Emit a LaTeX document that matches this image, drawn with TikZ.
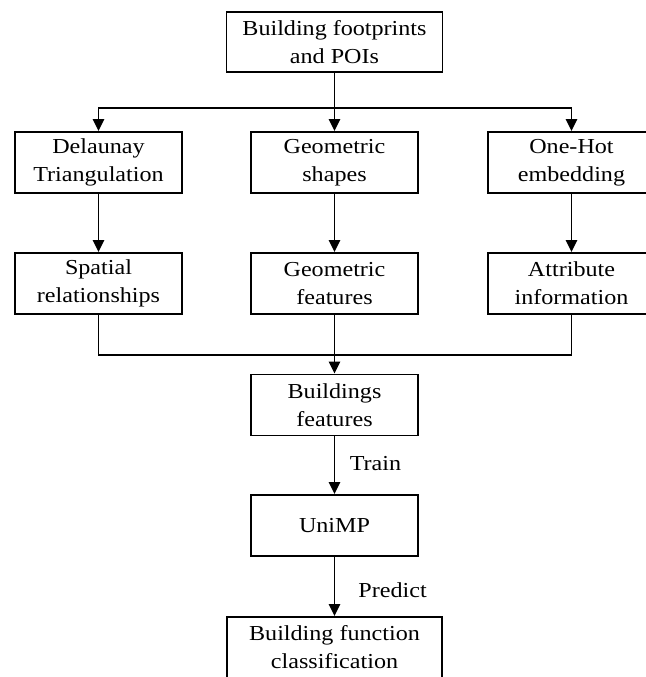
\documentclass[tikz,border=0pt]{standalone}
\usepackage{fontspec}
\setmainfont{Liberation Serif}[FakeStretch=1.13]
\usetikzlibrary{arrows.meta}

\tikzset{
  flowbox/.style={draw, line width=1.4pt, minimum width=125.25pt, minimum height=45.75pt,
    align=center, inner sep=0pt, font=\fontsize{16}{21}\selectfont},
  flowline/.style={line width=1.4pt},
  flowarrow/.style={line width=1.4pt, -{Triangle[length=9pt,width=8.5pt]}},
  flowlabel/.style={font=\fontsize{16}{21}\selectfont, inner sep=0.75pt}
}

\begin{document}
\begin{tikzpicture}[x=0.75pt,y=0.75pt,yscale=-1,xscale=1]
			\useasboundingbox (0,0) rectangle (645,677);
			
			%Shape: Rectangle [id:top]
			\node [flowbox, minimum width=162pt, minimum height=45pt] (input) at (334.5,42) {Building footprints\\and POIs};
			%Shape: Rectangle [id:row1]
			\node [flowbox] (delaunay) at (98.5,162.5) {Delaunay\\Triangulation};
			\node [flowbox] (geoshape) at (334.5,162.5) {Geometric\\shapes};
			\node [flowbox] (onehot) at (571.5,162.5) {One-Hot\\embedding};
			%Shape: Rectangle [id:row2]
			\node [flowbox] (spatial) at (98.5,283.5) {Spatial\\relationships};
			\node [flowbox] (geofeat) at (334.5,283.5) {Geometric\\features};
			\node [flowbox] (attrib) at (571.5,283.5) {Attribute\\information};
			%Shape: Rectangle [id:bottom]
			\node [flowbox] (bfeat) at (334.5,405) {Buildings\\features};
			\node [flowbox] (unimp) at (334.5,525.5) {UniMP};
			\node [flowbox, minimum width=161.25pt] (bfunc) at (334.5,647.5) {Building function\\classification};
			
			%Straight Lines [id:split]
			\coordinate (split) at (334.5,108);
			\coordinate (merge) at (334.5,355);
			\draw [flowline] (input) -- (split);
			\draw [flowarrow] (split) -| (delaunay.north);
			\draw [flowarrow] (split) -- (geoshape);
			\draw [flowarrow] (split) -| (onehot.north);
			
			%Straight Lines [id:down]
			\draw [flowarrow] (delaunay) -- (spatial);
			\draw [flowarrow] (geoshape) -- (geofeat);
			\draw [flowarrow] (onehot) -- (attrib);
			
			%Straight Lines [id:merge]
			\draw [flowline] (spatial.south) |- (merge);
			\draw [flowline] (attrib.south) |- (merge);
			\draw [flowarrow] (geofeat) -- (bfeat);
			
			% Text Node
			\draw [flowarrow] (bfeat) -- node [flowlabel, anchor=west, xshift=10pt, yshift=1.5pt] (train) {Train} (unimp);
			% Text Node
			\draw [flowarrow] (unimp) -- node [flowlabel, anchor=west, xshift=16.5pt, yshift=-2.5pt] (predict) {Predict} (bfunc);
\end{tikzpicture}
\end{document}
